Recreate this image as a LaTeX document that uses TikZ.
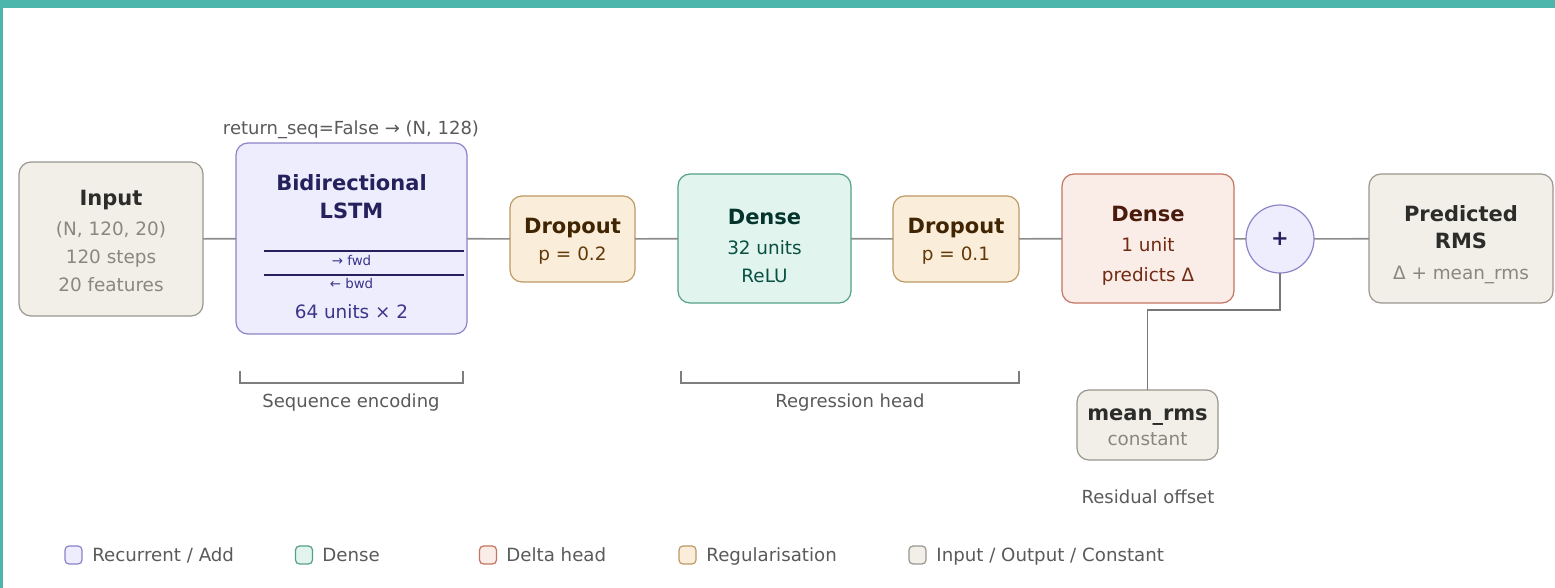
\documentclass[tikz,border=0pt]{standalone}
\usepackage{fontspec}
\setmainfont{DejaVu Sans}
\usetikzlibrary{calc}
\definecolor{teal}{HTML}{4DB6AC}
\definecolor{ioFill}{HTML}{F1EFE8}\definecolor{ioLine}{HTML}{9A978F}
\definecolor{ioT}{HTML}{2C2C2A}\definecolor{ioS}{HTML}{8A877F}
\definecolor{reFill}{HTML}{EEEDFE}\definecolor{reLine}{HTML}{8B84C8}
\definecolor{reT}{HTML}{26215C}\definecolor{reS}{HTML}{3C3489}
\definecolor{dpFill}{HTML}{FAEEDA}\definecolor{dpLine}{HTML}{BE9A66}
\definecolor{dpT}{HTML}{412402}\definecolor{dpS}{HTML}{633806}
\definecolor{dnFill}{HTML}{E1F5EE}\definecolor{dnLine}{HTML}{55A08A}
\definecolor{dnT}{HTML}{04342C}\definecolor{dnS}{HTML}{085041}
\definecolor{dlFill}{HTML}{FAECE7}\definecolor{dlLine}{HTML}{C37562}
\definecolor{dlT}{HTML}{4A1B0C}\definecolor{dlS}{HTML}{712B13}
\definecolor{conn}{HTML}{8C8C8C}
\definecolor{lab}{HTML}{5A5A5A}
\begin{document}
\begin{tikzpicture}[x=0.5pt,y=-0.5pt,
  box/.style={draw, rounded corners=6pt, line width=0.6pt, inner sep=0pt, outer sep=0pt},
  iobox/.style={box, fill=ioFill, draw=ioLine},
  rebox/.style={box, fill=reFill, draw=reLine},
  dpbox/.style={box, fill=dpFill, draw=dpLine},
  dnbox/.style={box, fill=dnFill, draw=dnLine},
  dlbox/.style={box, fill=dlFill, draw=dlLine},
  ttl/.style={anchor=base, inner sep=0pt, font=\fontsize{10.5}{12}\selectfont\bfseries},
  sub/.style={anchor=base, inner sep=0pt, font=\fontsize{9.2}{11}\selectfont},
  tiny/.style={anchor=base, inner sep=0pt, font=\fontsize{6.7}{8}\selectfont},
  lbl/.style={anchor=base, inner sep=0pt, text=lab, font=\fontsize{9}{11}\selectfont},
  wire/.style={draw=conn, line width=0.8pt},
  brk/.style={draw=conn!90!black, line width=0.6pt},
  sw/.style={draw, rounded corners=2pt, line width=0.6pt, minimum width=8.5pt, minimum height=9pt, inner sep=0pt},
  leg/.style={anchor=base west, inner sep=0pt, text=lab, font=\fontsize{9.1}{11}\selectfont}
]
\useasboundingbox (0,0) rectangle (1555,588);
\fill[white] (0,0) rectangle (1555,588);
\fill[teal] (0,0) rectangle (1555,8);
\fill[teal] (0,0) rectangle (3,588);

% boxes
\node[iobox, minimum width=92pt, minimum height=77pt] (in) at (111,239) {};
\node[rebox, minimum width=115.5pt, minimum height=95.5pt] (lstm) at (351.5,238.5) {};
\node[dpbox, minimum width=62.5pt, minimum height=43pt] (dp1) at (572.5,239) {};
\node[dnbox, minimum width=86.5pt, minimum height=64.5pt] (dn) at (764.5,238.5) {};
\node[dpbox, minimum width=63pt, minimum height=43pt] (dp2) at (956,239) {};
\node[dlbox, minimum width=86pt, minimum height=64.5pt] (dl) at (1148,238.5) {};
\node[draw=reLine, fill=reFill, circle, line width=0.6pt, minimum size=34pt, inner sep=0pt, outer sep=0pt] (plus) at (1280,239) {};
\node[iobox, minimum width=92pt, minimum height=64.5pt] (out) at (1461,238.5) {};
\node[iobox, minimum width=70.5pt, minimum height=35pt] (mean) at (1147.5,425) {};

% texts
\node[ttl, text=ioT] (in1) at (111,206) {Input};
\node[sub, text=ioS] (in2) at (111,236) {(N, 120, 20)};
\node[sub, text=ioS] (in3) at (111,264) {120 steps};
\node[sub, text=ioS] (in4) at (111,292) {20 features};

\node[lbl] (lstmtop) at (351,135) {return\_seq=False → (N, 128)};
\node[ttl, text=reT] (ls1) at (351.5,191) {Bidirectional};
\node[ttl, text=reT] (ls2) at (351.5,219) {LSTM};
\draw[reT, line width=0.7pt] (264,251) -- (464,251);
\draw[reT, line width=0.7pt] (264,275) -- (464,275);
\node[tiny, text=reS] (ls3) at (351.5,266) {→ fwd};
\node[tiny, text=reS] (ls4) at (351.5,289) {← bwd};
\node[sub, text=reS] (ls5) at (351.5,319) {64 units × 2};

\node[ttl, text=dpT] (d11) at (572.5,234) {Dropout};
\node[sub, text=dpS] (d12) at (572.5,261) {p = 0.2};

\node[ttl, text=dnT] (dn1) at (764.5,225) {Dense};
\node[sub, text=dnS] (dn2) at (764.5,255) {32 units};
\node[sub, text=dnS] (dn3) at (764.5,283) {ReLU};

\node[ttl, text=dpT] (d21) at (956,234) {Dropout};
\node[sub, text=dpS] (d22) at (956,261) {p = 0.1};

\node[ttl, text=dlT] (dl1) at (1148,222) {Dense};
\node[sub, text=dlS] (dl2) at (1148,252) {1 unit};
\node[sub, text=dlS] (dl3) at (1148,282) {predicts Δ};

\node[ttl, text=reT] (pl) at (1280,246) {+};

\node[ttl, text=ioT] (o1) at (1461,222) {Predicted};
\node[ttl, text=ioT] (o2) at (1461,249) {RMS};
\node[sub, text=ioS] (o3) at (1461,280) {Δ + mean\_rms};

\node[ttl, text=ioT] (m1) at (1147.5,421) {mean\_rms};
\node[sub, text=ioS] (m2) at (1147.5,446) {constant};

% connectors
\draw[wire] (in) -- (lstm);
\draw[wire] (lstm) -- (dp1);
\draw[wire] (dp1) -- (dn);
\draw[wire] (dn) -- (dp2);
\draw[wire] (dp2) -- (dl);
\draw[wire] (dl) -- (plus);
\draw[wire] (plus) -- (out);
\coordinate (elbow) at (1280,310);
\draw[wire, draw=conn!85!black, line width=0.9pt] (mean.north) |- (elbow) -- (plus.south);

% brackets
\draw[brk] (240,371) -- (240,383) -- (463,383) -- (463,371);
\node[lbl] (b1) at (351,408) {Sequence encoding};
\draw[brk] (681,371) -- (681,383) -- (1019,383) -- (1019,371);
\node[lbl] (b2) at (850,408) {Regression head};
\node[lbl] (b3) at (1148,503) {Residual offset};

% legend
\node[sw, fill=reFill, draw=reLine] (s1) at (73.5,555) {};
\node[leg] (l1) at (92,561.5) {Recurrent / Add};
\node[sw, fill=dnFill, draw=dnLine] (s2) at (304,555) {};
\node[leg] (l2) at (322,561.5) {Dense};
\node[sw, fill=dlFill, draw=dlLine] (s3) at (488,555) {};
\node[leg] (l3) at (506,561.5) {Delta head};
\node[sw, fill=dpFill, draw=dpLine] (s4) at (687.5,555) {};
\node[leg] (l4) at (706,561.5) {Regularisation};
\node[sw, fill=ioFill, draw=ioLine] (s5) at (917.5,555) {};
\node[leg] (l5) at (936,561.5) {Input / Output / Constant};
\end{tikzpicture}
\end{document}
